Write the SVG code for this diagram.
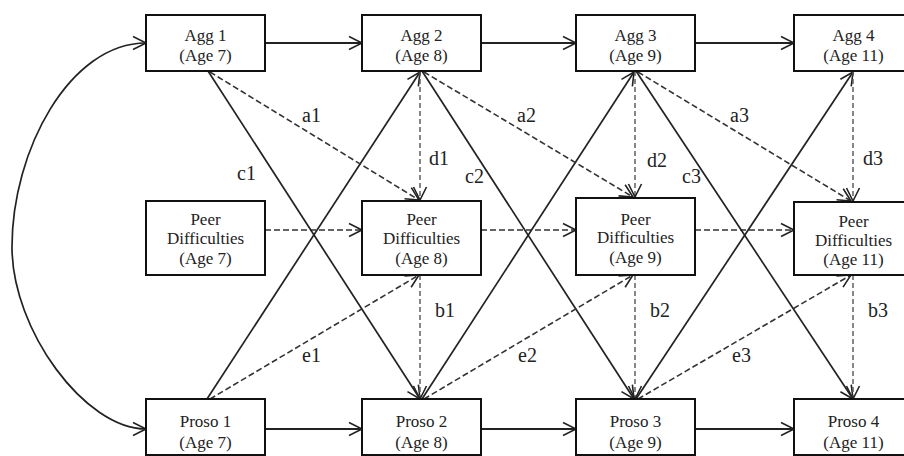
<svg xmlns="http://www.w3.org/2000/svg" width="904" height="456" viewBox="0 0 904 456">
<defs>
<style>
.box{fill:#fff;stroke:#111;stroke-width:2}
.t{font-family:"Liberation Serif","Times New Roman",serif;font-size:17px;fill:#222;text-anchor:middle}
.lb{font-family:"Liberation Serif","Times New Roman",serif;font-size:20px;fill:#222}
.s{fill:none;stroke:#222;stroke-width:1.7}
.h{fill:none;stroke:#222;stroke-width:2.2}
.d{fill:none;stroke:#333;stroke-width:1.6;stroke-dasharray:6 3}
.v{fill:none;stroke:#555;stroke-width:1.4;stroke-dasharray:5 3}
</style>
<marker id="ah" markerUnits="userSpaceOnUse" viewBox="-15 -8 17 16" refX="0" refY="0" markerWidth="17" markerHeight="16" orient="auto-start-reverse">
<path d="M-13,-6.5 L0,0 L-13,6.5" fill="none" stroke="#222" stroke-width="1.6"/>
</marker>
</defs>
<rect width="904" height="456" fill="#fff"/>
<g id="connectors">
<path class="s" d="M146,43 C70,43 12,150 12,247 C12,330 85,429 146,429" marker-start="url(#ah)" marker-end="url(#ah)"/>
<line class="h" x1="265" y1="43" x2="362" y2="43" marker-end="url(#ah)"/>
<line class="h" x1="481" y1="43" x2="576" y2="43" marker-end="url(#ah)"/>
<line class="h" x1="695" y1="43" x2="794" y2="43" marker-end="url(#ah)"/>
<line class="h" x1="265" y1="429" x2="362" y2="429" marker-end="url(#ah)"/>
<line class="h" x1="481" y1="429" x2="576" y2="429" marker-end="url(#ah)"/>
<line class="h" x1="695" y1="429" x2="794" y2="429" marker-end="url(#ah)"/>
<line class="d" x1="265" y1="230" x2="362" y2="230" marker-end="url(#ah)"/>
<line class="d" x1="481" y1="230" x2="576" y2="230" marker-end="url(#ah)"/>
<line class="d" x1="695" y1="230" x2="794" y2="230" marker-end="url(#ah)"/>
<line class="s" x1="208" y1="71" x2="420" y2="399" marker-end="url(#ah)"/>
<line class="s" x1="207" y1="399" x2="420" y2="72" marker-end="url(#ah)"/>
<line class="d" x1="210" y1="72" x2="419" y2="200" marker-end="url(#ah)"/>
<line class="d" x1="210" y1="399" x2="419" y2="275" marker-end="url(#ah)"/>
<line class="s" x1="422" y1="71" x2="634" y2="399" marker-end="url(#ah)"/>
<line class="s" x1="422" y1="399" x2="634" y2="72" marker-end="url(#ah)"/>
<line class="d" x1="424" y1="72" x2="633" y2="197" marker-end="url(#ah)"/>
<line class="d" x1="424" y1="399" x2="633" y2="275" marker-end="url(#ah)"/>
<line class="s" x1="636" y1="71" x2="853" y2="399" marker-end="url(#ah)"/>
<line class="s" x1="636" y1="399" x2="853" y2="72" marker-end="url(#ah)"/>
<line class="d" x1="638" y1="72" x2="851" y2="201" marker-end="url(#ah)"/>
<line class="d" x1="638" y1="399" x2="851" y2="275" marker-end="url(#ah)"/>
<line class="v" x1="420" y1="71" x2="420" y2="200" marker-end="url(#ah)"/>
<line class="v" x1="420" y1="275" x2="420" y2="399" marker-end="url(#ah)"/>
<line class="v" x1="635" y1="71" x2="635" y2="197" marker-end="url(#ah)"/>
<line class="v" x1="635" y1="275" x2="635" y2="399" marker-end="url(#ah)"/>
<line class="v" x1="853" y1="71" x2="853" y2="201" marker-end="url(#ah)"/>
<line class="v" x1="853" y1="275" x2="853" y2="399" marker-end="url(#ah)"/>
</g>
<g id="labels">
<text class="lb" x="302" y="122">a1</text>
<text class="lb" x="517" y="122">a2</text>
<text class="lb" x="730" y="122">a3</text>
<text class="lb" x="237" y="180">c1</text>
<text class="lb" x="465" y="183">c2</text>
<text class="lb" x="682" y="183">c3</text>
<text class="lb" x="429" y="165">d1</text>
<text class="lb" x="647" y="167">d2</text>
<text class="lb" x="863" y="165">d3</text>
<text class="lb" x="435" y="317">b1</text>
<text class="lb" x="650" y="317">b2</text>
<text class="lb" x="868" y="317">b3</text>
<text class="lb" x="302" y="362">e1</text>
<text class="lb" x="518" y="362">e2</text>
<text class="lb" x="732" y="362">e3</text>
</g>
<g id="agg1"><rect class="box" x="146" y="15" width="119" height="56"/><text class="t" x="205.5" y="40.5">Agg 1</text><text class="t" x="205.5" y="60.5">(Age 7)</text></g>
<g id="agg2"><rect class="box" x="362" y="15" width="119" height="56"/><text class="t" x="421.5" y="40.5">Agg 2</text><text class="t" x="421.5" y="60.5">(Age 8)</text></g>
<g id="agg3"><rect class="box" x="576" y="15" width="119" height="56"/><text class="t" x="635.5" y="40.5">Agg 3</text><text class="t" x="635.5" y="60.5">(Age 9)</text></g>
<g id="agg4"><rect class="box" x="794" y="15" width="119" height="56"/><text class="t" x="853.5" y="40.5">Agg 4</text><text class="t" x="853.5" y="60.5">(Age 11)</text></g>
<g id="peer1"><rect class="box" x="146" y="201" width="119" height="74"/><text class="t" x="205.5" y="225">Peer</text><text class="t" x="205.5" y="244">Difficulties</text><text class="t" x="205.5" y="264">(Age 7)</text></g>
<g id="peer2"><rect class="box" x="362" y="201" width="119" height="74"/><text class="t" x="421.5" y="225">Peer</text><text class="t" x="421.5" y="244">Difficulties</text><text class="t" x="421.5" y="264">(Age 8)</text></g>
<g id="peer3"><rect class="box" x="576" y="198" width="119" height="77"/><text class="t" x="635.5" y="225">Peer</text><text class="t" x="635.5" y="243">Difficulties</text><text class="t" x="635.5" y="263">(Age 9)</text></g>
<g id="peer4"><rect class="box" x="794" y="202" width="119" height="73"/><text class="t" x="853.5" y="227">Peer</text><text class="t" x="853.5" y="246">Difficulties</text><text class="t" x="853.5" y="265">(Age 11)</text></g>
<g id="proso1"><rect class="box" x="146" y="399" width="119" height="56"/><text class="t" x="205.5" y="427">Proso 1</text><text class="t" x="205.5" y="448">(Age 7)</text></g>
<g id="proso2"><rect class="box" x="362" y="399" width="119" height="56"/><text class="t" x="421.5" y="427">Proso 2</text><text class="t" x="421.5" y="448">(Age 8)</text></g>
<g id="proso3"><rect class="box" x="576" y="399" width="119" height="56"/><text class="t" x="635.5" y="427">Proso 3</text><text class="t" x="635.5" y="448">(Age 9)</text></g>
<g id="proso4"><rect class="box" x="794" y="399" width="119" height="56"/><text class="t" x="853.5" y="427">Proso 4</text><text class="t" x="853.5" y="448">(Age 11)</text></g>
</svg>
